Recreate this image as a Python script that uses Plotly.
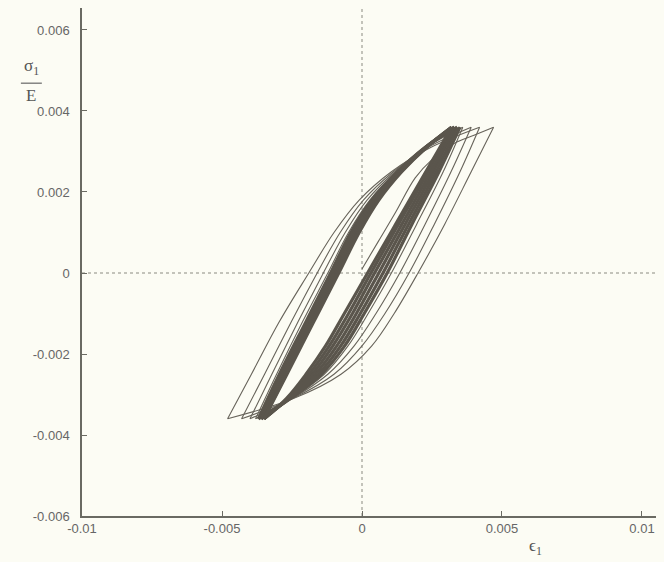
import plotly.graph_objects as go

# ---- data ----
# initial monotonic loading from the origin
init_x = [0.0000, 0.0006, 0.0012, 0.0019, 0.0025, 0.0033, 0.0040, 0.0047]
init_y = [0.0001, 0.0008, 0.0015, 0.00235, 0.0028, 0.0032, 0.0034, 0.0036]

# descending branches (peak -> trough), x values at these stress levels
desc_y = [0.0036, 0.0025, 0.0012, 0.0000, -0.0010, -0.0018, -0.0025, -0.0031, -0.0036]
desc_x = [
    [0.0047, 0.00390, 0.00295, 0.00200, 0.00115, 0.00035, -0.00075, -0.00245, -0.0048],
    [0.0042, 0.00350, 0.00258, 0.00168, 0.00082, 0.00000, -0.00100, -0.00248, -0.0043],
    [0.0039, 0.00318, 0.00225, 0.00135, 0.00050, -0.00028, -0.00122, -0.00250, -0.0040],
    [0.0036, 0.00290, 0.00195, 0.00105, 0.00022, -0.00050, -0.00135, -0.00252, -0.0038],
    [0.0035, 0.00275, 0.00178, 0.00090, 0.00008, -0.00062, -0.00145, -0.00255, -0.0037],
    [0.0034, 0.00265, 0.00166, 0.00075, -0.00006, -0.00076, -0.00156, -0.00258, -0.0036],
    [0.0033, 0.00255, 0.00154, 0.00060, -0.00020, -0.00090, -0.00167, -0.00261, -0.0036],
    [0.0033, 0.00246, 0.00142, 0.00045, -0.00034, -0.00104, -0.00178, -0.00264, -0.0035],
    [0.0032, 0.00236, 0.00130, 0.00032, -0.00048, -0.00117, -0.00189, -0.00267, -0.0035],
    [0.0032, 0.00228, 0.00120, 0.00020, -0.00063, -0.00130, -0.00200, -0.00270, -0.0035],
]

# ascending branches (trough -> next peak), x values at these stress levels
asc_y = [-0.0036, -0.0025, -0.0012, 0.0000, 0.0010, 0.0018, 0.0025, 0.0031, 0.0036]
asc_x = [
    [-0.0048, -0.00395, -0.00295, -0.00190, -0.00100, -0.00010, 0.00105, 0.00245, 0.0042],
    [-0.0043, -0.00348, -0.00252, -0.00160, -0.00078, 0.00005, 0.00112, 0.00235, 0.0039],
    [-0.0040, -0.00322, -0.00228, -0.00138, -0.00060, 0.00018, 0.00118, 0.00228, 0.0036],
    [-0.0038, -0.00305, -0.00212, -0.00122, -0.00048, 0.00028, 0.00123, 0.00225, 0.0035],
    [-0.0037, -0.00295, -0.00200, -0.00112, -0.00040, 0.00035, 0.00127, 0.00225, 0.0034],
    [-0.0036, -0.00287, -0.00193, -0.00106, -0.00034, 0.00040, 0.00130, 0.00226, 0.0033],
    [-0.0036, -0.00282, -0.00188, -0.00100, -0.00028, 0.00045, 0.00133, 0.00227, 0.0033],
    [-0.0035, -0.00276, -0.00182, -0.00095, -0.00022, 0.00050, 0.00136, 0.00228, 0.0032],
    [-0.0035, -0.00272, -0.00177, -0.00089, -0.00016, 0.00055, 0.00139, 0.00229, 0.0032],
    [-0.0035, -0.00268, -0.00172, -0.00083, -0.00010, 0.00060, 0.00142, 0.00230, 0.0032],
]

x_ticks = [-0.01, -0.005, 0, 0.005, 0.01]
x_tick_text = ["-0.01", "-0.005", "0", "0.005", "0.01"]
y_ticks = [-0.006, -0.004, -0.002, 0, 0.002, 0.004, 0.006]
y_tick_text = ["-0.006", "-0.004", "-0.002", "0", "0.002", "0.004", "0.006"]

# ---- figure ----
LINE = "#67635a"
DARK = "#5a554c"
BG = "#fcfcf4"

fig = go.Figure()

def add_branch(xs, ys, color, width):
    fig.add_trace(go.Scatter(
        x=xs, y=ys, mode="lines",
        line=dict(color=color, width=width, shape="spline", smoothing=1.0),
        showlegend=False, hoverinfo="skip"))

add_branch(init_x, init_y, LINE, 1.1)
for i in range(len(desc_x)):
    w = 1.1 if i < 4 else 3.2
    c = LINE if i < 4 else DARK
    add_branch(desc_x[i], desc_y, c, w)
    add_branch(asc_x[i], asc_y, c, w)

# dotted zero lines
fig.add_shape(type="line", xref="x", yref="paper", x0=0, x1=0, y0=0, y1=1,
              line=dict(color="#8a8a80", width=1, dash="dot"), layer="below")
fig.add_shape(type="line", xref="paper", yref="y", x0=0, x1=1, y0=0, y1=0,
              line=dict(color="#8a8a80", width=1, dash="dot"), layer="below")

LABEL_FONT = dict(family="Liberation Serif", size=17, color="#555")
# y label: sigma_1 / E as a fraction
fig.add_annotation(xref="paper", yref="paper", x=-0.0876, y=0.884,
                   text="σ<sub>1</sub>", showarrow=False, font=LABEL_FONT,
                   xanchor="center", yanchor="middle")
fig.add_shape(type="line", xref="paper", yref="paper", x0=-0.105, x1=-0.069,
              y0=0.852, y1=0.852, line=dict(color="#666", width=1.2))
fig.add_annotation(xref="paper", yref="paper", x=-0.0876, y=0.827,
                   text="E", showarrow=False, font=LABEL_FONT,
                   xanchor="center", yanchor="middle")
# x label
fig.add_annotation(xref="paper", yref="paper", x=0.780, y=-0.062,
                   text="ϵ<sub>1</sub>", showarrow=False, font=LABEL_FONT,
                   xanchor="center", yanchor="middle")

axis_common = dict(
    showgrid=False, zeroline=False, showline=True, linecolor="#6a6a62",
    linewidth=1.5, ticks="inside", ticklen=5, tickwidth=1.3, tickcolor="#6a6a62",
    tickfont=dict(family="Liberation Sans", size=13, color="#666"),
)

# page has an 8px body margin, so the figure is sized to fit the 664x562 window
fig.update_layout(
    width=656, height=554,
    margin=dict(l=74, r=0, t=0, b=46),
    paper_bgcolor=BG, plot_bgcolor=BG,
    xaxis=dict(range=[-0.01, 0.010786], tickvals=x_ticks, ticktext=x_tick_text,
               **axis_common),
    yaxis=dict(range=[-0.006, 0.006543], tickvals=y_ticks, ticktext=y_tick_text,
               ticklabelstandoff=8, **axis_common),
)

fig.write_html("out.html",
               post_script="document.body.style.background='#fcfcf4';")
